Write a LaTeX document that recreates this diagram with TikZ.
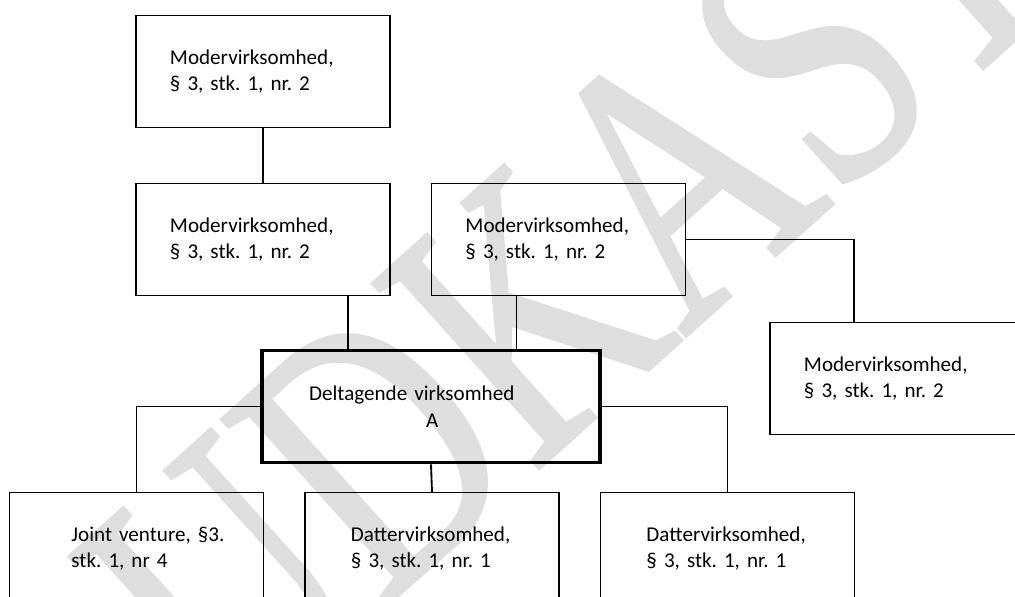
\documentclass[tikz,border=0pt]{standalone}
\usepackage{fontspec}
\setmainfont{Carlito}
\newfontfamily\wmfont[FakeBold=1]{Liberation Serif}
\usetikzlibrary{positioning}
\definecolor{wmgray}{HTML}{DEDEDE}
\newcommand{\ind}[1]{\hspace*{#1}}
\frenchspacing
\tikzset{
  orgbox/.style={draw, line width=1.3pt, minimum width=6.35cm, minimum height=2.8cm,
                 text width=4.65cm, inner xsep=0.85cm, inner ysep=0pt, align=left,
                 font=\fontsize{15}{19}\selectfont},
  subbox/.style={orgbox, line width=0.9pt},
  mainbox/.style={orgbox, line width=2.6pt, minimum width=8.45cm, text width=6.75cm},
  link/.style={line width=1.3pt},
  thinlink/.style={line width=0.7pt},
}
\begin{document}
\begin{tikzpicture}[x=0.025cm, y=-0.025cm]
  \useasboundingbox (0,0) rectangle (1015,597);

  %% Watermark
  \node[rotate=42, yscale=1.35, text=wmgray, inner sep=0pt,
        font=\wmfont\fontsize{200}{200}\selectfont] (wm) at (572,272) {UDKAST};

  %% Parent companies
  \node[orgbox] (mtop) at (263,71.5) {Modervirksomhed,\\§ 3, stk. 1, nr. 2};
  \node[orgbox] (mleft) at (263,239.5) {Modervirksomhed,\\§ 3, stk. 1, nr. 2};
  \node[orgbox] (mright) at (558.5,239.5) {Modervirksomhed,\\§ 3, stk. 1, nr. 2};
  \node[orgbox] (mfar) at (897,378.5) {Modervirksomhed,\\§ 3, stk. 1, nr. 2};

  %% Participating company
  \node[mainbox] (dta) at (431,406.5) {\ind{0.33cm}Deltagende virksomhed\\\ind{3.25cm}A};

  %% Subsidiaries and joint venture
  \node[subbox] (jv) at (136.5,548.5) {\ind{0.7cm}Joint venture, §3.\\\ind{0.7cm}stk. 1, nr 4};
  \node[subbox] (dat1) at (432,548.5) {\ind{0.3cm}Dattervirksomhed,\\\ind{0.3cm}§ 3, stk. 1, nr. 1};
  \node[subbox] (dat2) at (727.5,548.5) {\ind{0.3cm}Dattervirksomhed,\\\ind{0.3cm}§ 3, stk. 1, nr. 1};

  %% Connectors
  \draw[link] (mtop.south) -- (mleft.north);
  \draw[link] ([xshift=2.125cm]mleft.south) -- ([xshift=2.125cm]mleft.south |- dta.north);
  \draw[thinlink] ([xshift=-1.06cm]mright.south) -- ([xshift=-1.06cm]mright.south |- dta.north);
  \draw[link] (mright.east) -| ([xshift=-1.075cm]mfar.north);
  \draw[thinlink] (dta.west) -| (jv.north);
  \draw[thinlink] (dta.east) -| (dat2.north);
  \draw[link] (dta.south) -- (dat1.north);
\end{tikzpicture}
\end{document}
